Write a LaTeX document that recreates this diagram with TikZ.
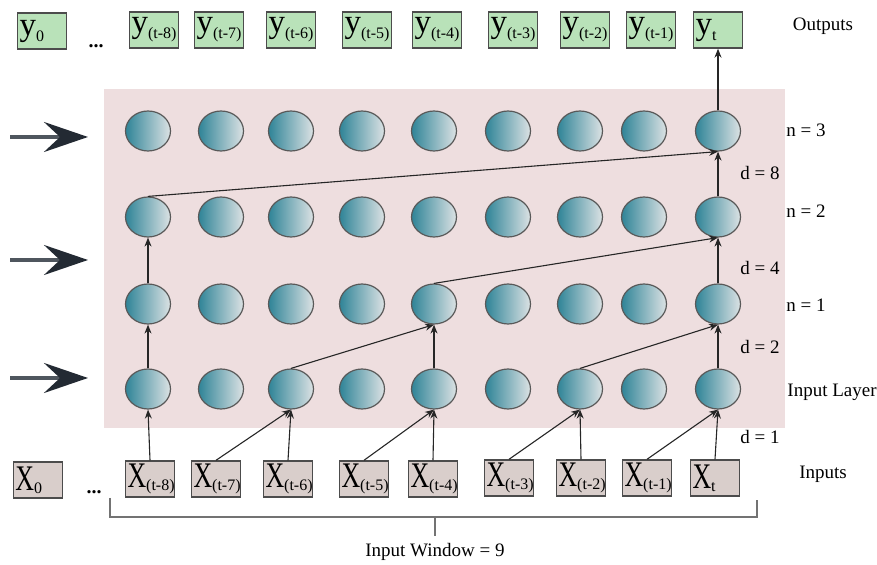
\documentclass[tikz,border=0pt]{standalone}
\usepackage{fontspec}
\setmainfont{Liberation Serif}
\usepackage{tikz}
\usetikzlibrary{arrows.meta,shapes.geometric}
\definecolor{outgreen}{HTML}{B9E2B9}
\definecolor{inpink}{HTML}{D9CECB}
\definecolor{layerpink}{HTML}{EEDEDF}
\definecolor{cellteal}{HTML}{2F8497}
\definecolor{cellgray}{HTML}{DCE2E4}
\definecolor{bigshaft}{HTML}{4F565E}
\definecolor{bighead}{HTML}{232A33}
\newcommand{\Xlab}[2]{{\fontsize{18}{18}\selectfont\scalebox{0.72}[1]{#1}}\raisebox{-1.5pt}{\fontsize{8}{9}\selectfont #2}}
\newcommand{\Ylab}[2]{{\fontsize{16.5}{17}\selectfont #1}\raisebox{-3pt}{\fontsize{8}{9}\selectfont #2}}
\tikzset{
  obox/.style={rectangle,draw=black!70,line width=0.7pt,fill=outgreen,minimum width=24.5pt,minimum height=18pt,inner sep=1pt,text width=22.5pt,align=left},
  ibox/.style={obox,fill=inpink},
  cell/.style={ellipse,draw=black!65,line width=0.6pt,left color=cellteal,right color=cellgray,minimum width=22.5pt,minimum height=20pt,inner sep=0pt},
  link/.style={-{Stealth[length=4.5pt,width=3.5pt]},line width=0.55pt,black!85},
  bigarr/.style={-{Stealth[length=22pt,width=15pt,inset=8pt,color=bighead]},line width=1.8pt,bigshaft},
  lbl/.style={font=\fontsize{9.5}{11}\selectfont}
}
\begin{document}
\begin{tikzpicture}[x=0.5pt,y=-0.5pt]
\useasboundingbox (0,0) rectangle (877,565);
% \draw[help lines,step=50] (0,0) grid (877,565);
\fill[layerpink] (104,89) rectangle (785,428);
%
\node (y0) [obox] at (42,31) {\Ylab{y}{0}};
\node (y8) [obox] at (154,30) {\Ylab{y}{(t-8)}};
\node (y7) [obox] at (219,30) {\Ylab{y}{(t-7)}};
\node (y6) [obox] at (291,30) {\Ylab{y}{(t-6)}};
\node (y5) [obox] at (367,30) {\Ylab{y}{(t-5)}};
\node (y4) [obox] at (437,30) {\Ylab{y}{(t-4)}};
\node (y3) [obox] at (513,30) {\Ylab{y}{(t-3)}};
\node (y2) [obox] at (585,30) {\Ylab{y}{(t-2)}};
\node (y1) [obox] at (651,30) {\Ylab{y}{(t-1)}};
\node (yt) [obox] at (718,30) {\Ylab{y}{t}};
\node (ydots) [font=\fontsize{10}{10}\selectfont\bfseries] at (96,46) {...};
%
\node (x0) [ibox] at (38,480) {\Xlab{X}{0}};
\node (x8) [ibox] at (150,479) {\Xlab{X}{(t-8)}};
\node (x7) [ibox] at (216,479) {\Xlab{X}{(t-7)}};
\node (x6) [ibox] at (288,479) {\Xlab{X}{(t-6)}};
\node (x5) [ibox] at (364,479) {\Xlab{X}{(t-5)}};
\node (x4) [ibox] at (433,479) {\Xlab{X}{(t-4)}};
\node (x3) [ibox] at (509,478) {\Xlab{X}{(t-3)}};
\node (x2) [ibox] at (581,478) {\Xlab{X}{(t-2)}};
\node (x1) [ibox] at (647,478) {\Xlab{X}{(t-1)}};
\node (xt) [ibox] at (715,478) {\Xlab{X}{t}};
\node (xdots) [font=\fontsize{10}{10}\selectfont\bfseries] at (94,492) {...};
%
\foreach \row/\yy in {0/389,1/304,2/217,3/131}
  \foreach \col/\xx in {1/148,2/221,3/291,4/362,5/434,6/508,7/580,8/644,9/718}
    \node (c-\row-\col) [cell] at (\xx,\yy) {};
%
\path[link] (x8.north) edge (c-0-1.south);
\path[link] (x7.north) edge (c-0-3.south);
\path[link] (x6.north) edge (c-0-3.south);
\path[link] (x5.north) edge (c-0-5.south);
\path[link] (x4.north) edge (c-0-5.south);
\path[link] (x3.north) edge (c-0-7.south);
\path[link] (x2.north) edge (c-0-7.south);
\path[link] (x1.north) edge (c-0-9.south);
\path[link] (xt.north) edge (c-0-9.south);
%
\path[link] (c-0-1.north) edge (c-1-1.south);
\path[link] (c-0-3.north) edge (c-1-5.south);
\path[link] (c-0-5.north) edge (c-1-5.south);
\path[link] (c-0-7.north) edge (c-1-9.south);
\path[link] (c-0-9.north) edge (c-1-9.south);
%
\path[link] (c-1-1.north) edge (c-2-1.south);
\path[link] (c-1-5.north) edge (c-2-9.south);
\path[link] (c-1-9.north) edge (c-2-9.south);
%
\path[link] (c-2-1.north) edge (c-3-9.south);
\path[link] (c-2-9.north) edge (c-3-9.south);
\path[link] (c-3-9.north) edge (yt.south);
%
\coordinate (a1s) at (10,137); \coordinate (a1e) at (88,137);
\coordinate (a2s) at (10,260); \coordinate (a2e) at (88,260);
\coordinate (a3s) at (10,378); \coordinate (a3e) at (88,378);
\path[bigarr] (a1s) edge (a1e);
\path[bigarr] (a2s) edge (a2e);
\path[bigarr] (a3s) edge (a3e);
%
\node (outs) [lbl] at (823,26) {Outputs};
\node (n3) [lbl] at (806,130) {n = 3};
\node (d8) [lbl] at (760,173) {d = 8};
\node (n2) [lbl] at (806,211) {n = 2};
\node (d4) [lbl] at (760,268) {d = 4};
\node (n1) [lbl] at (806,305) {n = 1};
\node (d2) [lbl] at (760,347) {d = 2};
\node (inl) [lbl] at (832,392) {Input Layer};
\node (d1) [lbl] at (760,437) {d = 1};
\node (ins) [lbl] at (823,474) {Inputs};
%
\node (win) [lbl] at (435,552) {Input Window = 9};
\coordinate (bl) at (110,498);
\coordinate (br) at (757,500);
\coordinate (bm) at (435,517);
\draw[black!55,line width=0.8pt] (bl) |- (bm) -| (br);
\draw[black!55,line width=0.8pt] (bm) -- (win.north);
\end{tikzpicture}
\end{document}
